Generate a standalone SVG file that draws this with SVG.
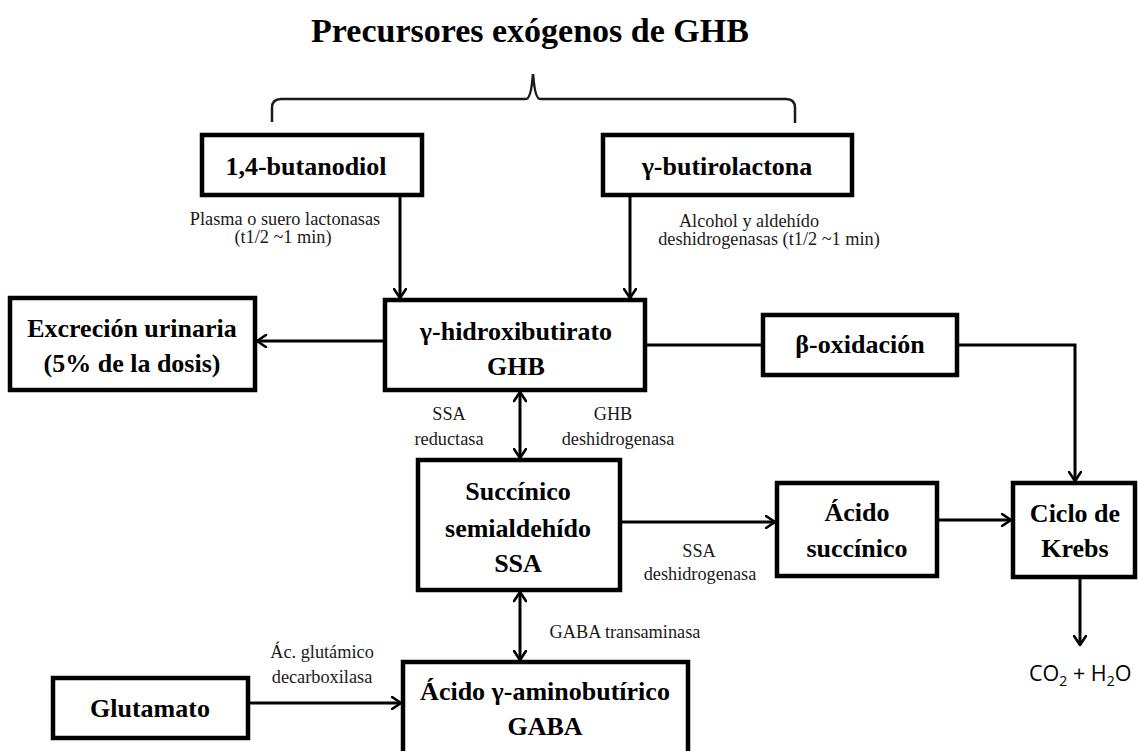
<svg xmlns="http://www.w3.org/2000/svg" width="1138" height="751" viewBox="0 0 1138 751">
  <style>
    .box { fill: #ffffff; stroke: #000000; stroke-width: 4.5; }
    .name { font-family: "Liberation Serif", "Times New Roman", serif; font-weight: bold; font-size: 26px; fill: #000000; text-anchor: middle; }
    .enz { font-family: "Liberation Serif", "Times New Roman", serif; font-size: 18.3px; fill: #1a1a1a; text-anchor: middle; }
    .title { font-family: "Liberation Serif", "Times New Roman", serif; font-weight: bold; font-size: 34px; fill: #000000; text-anchor: middle; }
    .link { fill: none; stroke: #000000; stroke-width: 3; }
    .prod { font-family: "Open Sans", "Liberation Sans", sans-serif; font-size: 21.5px; fill: #000000; }
  </style>
  <defs>
    <marker id="head" viewBox="0 0 12 14" refX="10.5" refY="7" markerWidth="12" markerHeight="14" markerUnits="userSpaceOnUse" orient="auto-start-reverse">
      <path d="M1.5,1 L10.5,7 L1.5,13" fill="none" stroke="#000000" stroke-width="2.6" stroke-linecap="round" stroke-linejoin="round"/>
    </marker>
  </defs>

  <rect width="1138" height="751" fill="#ffffff"/>

  <!-- heading and brace over the two precursors -->
  <g id="heading">
    <text class="title" x="530" y="42">Precursores exógenos de GHB</text>
    <path d="M272,122 L272,108 Q272,99 281,99 L526,99 Q531,99 533,74 Q535,99 540,99 L786,99 Q795,99 795,108 L795,123" fill="none" stroke="#1a1a1a" stroke-width="2.5"/>
  </g>

  <!-- connectors -->
  <g id="connectors">
    <line class="link" x1="400" y1="195" x2="400" y2="298" marker-end="url(#head)"/>
    <line class="link" x1="630" y1="195" x2="630" y2="298" marker-end="url(#head)"/>
    <line class="link" x1="385" y1="341" x2="257" y2="341" marker-end="url(#head)"/>
    <line class="link" x1="645" y1="345" x2="763" y2="345"/>
    <polyline class="link" points="957,345 1075,345 1075,481" marker-end="url(#head)"/>
    <line class="link" x1="520" y1="392" x2="520" y2="458" marker-start="url(#head)" marker-end="url(#head)"/>
    <line class="link" x1="620" y1="522" x2="775" y2="522" marker-end="url(#head)"/>
    <line class="link" x1="937" y1="520" x2="1011" y2="520" marker-end="url(#head)"/>
    <line class="link" x1="1080" y1="577" x2="1080" y2="645" marker-end="url(#head)"/>
    <line class="link" x1="520" y1="592" x2="520" y2="660" marker-start="url(#head)" marker-end="url(#head)"/>
    <line class="link" x1="248" y1="703" x2="401" y2="703" marker-end="url(#head)"/>

    <!-- enzyme labels -->
    <text class="enz" x="285" y="225">Plasma o suero lactonasas</text>
    <text class="enz" x="283" y="243">(t1/2 ~1 min)</text>
    <text class="enz" x="749" y="227">Alcohol y aldehído</text>
    <text class="enz" x="769" y="245">deshidrogenasas  (t1/2 ~1 min)</text>
    <text class="enz" x="449" y="420">SSA</text>
    <text class="enz" x="449" y="445">reductasa</text>
    <text class="enz" x="613" y="420">GHB</text>
    <text class="enz" x="618" y="445">deshidrogenasa</text>
    <text class="enz" x="699" y="557">SSA</text>
    <text class="enz" x="700" y="580">deshidrogenasa</text>
    <text class="enz" x="625" y="638">GABA transaminasa</text>
    <text class="enz" x="322" y="658">Ác. glutámico</text>
    <text class="enz" x="322" y="683">decarboxilasa</text>
    <text class="prod" x="1029" y="681">CO<tspan font-size="14" dy="5">2</tspan><tspan dy="-5"> + H</tspan><tspan font-size="14" dy="5">2</tspan><tspan dy="-5">O</tspan></text>
  </g>

  <!-- nodes -->
  <g id="butanodiol">
    <rect class="box" x="202" y="135" width="220" height="60"/>
    <text class="name" x="306" y="175">1,4-butanodiol</text>
  </g>
  <g id="butirolactona">
    <rect class="box" x="603" y="135" width="249" height="60"/>
    <text class="name" x="727" y="175">γ-butirolactona</text>
  </g>
  <g id="excrecion">
    <rect class="box" x="10" y="298" width="245" height="92"/>
    <text class="name" x="132" y="337">Excreción  urinaria</text>
    <text class="name" x="132" y="372">(5% de la dosis)</text>
  </g>
  <g id="ghb">
    <rect class="box" x="385" y="300" width="260" height="90"/>
    <text class="name" x="516" y="340">γ-hidroxibutirato</text>
    <text class="name" x="516" y="375">GHB</text>
  </g>
  <g id="beta-oxidacion">
    <rect class="box" x="763" y="315" width="194" height="60"/>
    <text class="name" x="860" y="353">β-oxidación</text>
  </g>
  <g id="ssa">
    <rect class="box" x="418" y="460" width="202" height="130"/>
    <text class="name" x="518" y="500">Succínico</text>
    <text class="name" x="518" y="537">semialdehído</text>
    <text class="name" x="518" y="572">SSA</text>
  </g>
  <g id="acido-succinico">
    <rect class="box" x="777" y="483" width="160" height="93"/>
    <text class="name" x="857" y="521">Ácido</text>
    <text class="name" x="857" y="557">succínico</text>
  </g>
  <g id="krebs">
    <rect class="box" x="1013" y="483" width="122" height="94"/>
    <text class="name" x="1075" y="522">Ciclo de</text>
    <text class="name" x="1075" y="557">Krebs</text>
  </g>
  <g id="gaba">
    <rect class="box" x="403" y="662" width="285" height="100"/>
    <text class="name" x="545" y="700">Ácido γ-aminobutírico</text>
    <text class="name" x="545" y="735">GABA</text>
  </g>
  <g id="glutamato">
    <rect class="box" x="53" y="678" width="195" height="60"/>
    <text class="name" x="150" y="717">Glutamato</text>
  </g>
</svg>
